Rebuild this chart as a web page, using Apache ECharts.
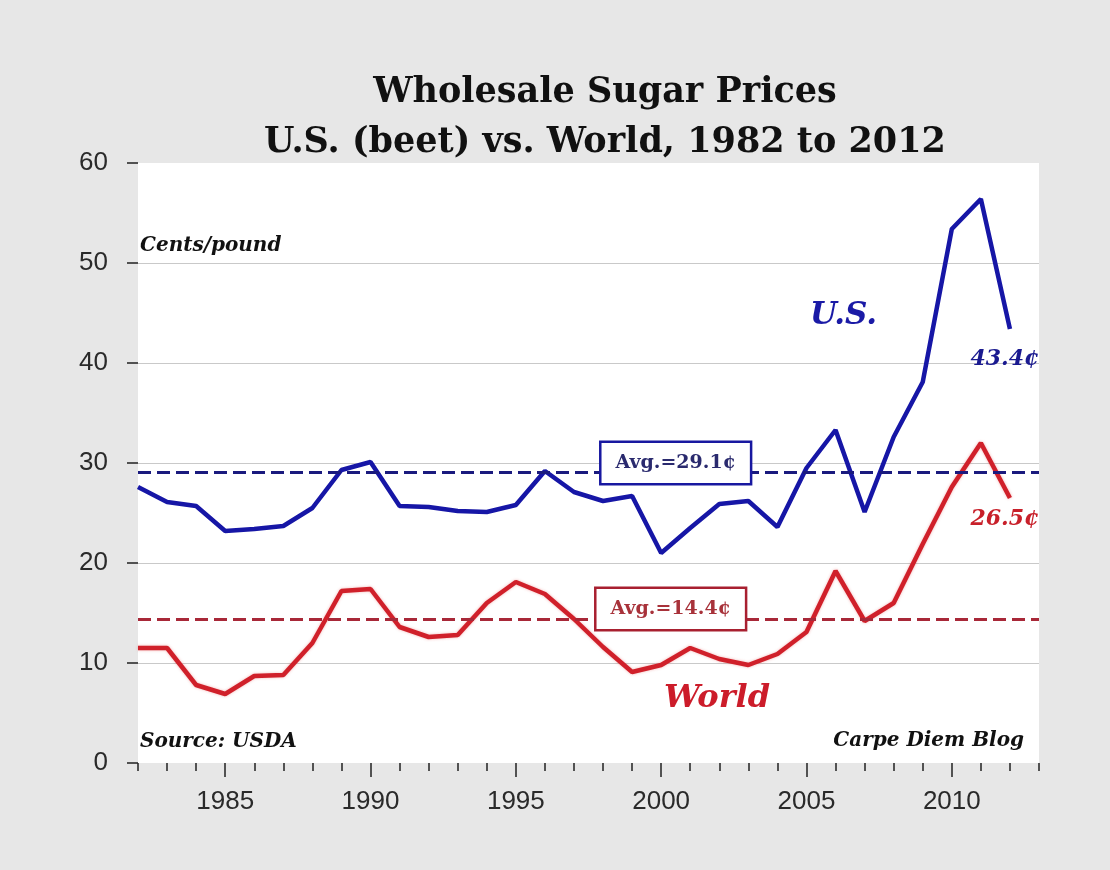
<!DOCTYPE html>
<html>
<head>
<meta charset="utf-8">
<title>Wholesale Sugar Prices</title>
<script src="https://cdn.jsdelivr.net/npm/echarts@6/dist/echarts.min.js"></script>
<style>
  html, body { margin: 0; padding: 0; background: #e7e7e7; }
  #chart { width: 1110px; height: 870px; }
</style>
</head>
<body>
<div id="chart"></div>
<script>
// Annual wholesale sugar prices, cents per pound
const years = [1982, 1983, 1984, 1985, 1986, 1987, 1988, 1989, 1990, 1991,
               1992, 1993, 1994, 1995, 1996, 1997, 1998, 1999, 2000, 2001,
               2002, 2003, 2004, 2005, 2006, 2007, 2008, 2009, 2010, 2011, 2012];
const usPrices = [27.6, 26.1, 25.7, 23.2, 23.4, 23.7, 25.5, 29.3, 30.1, 25.7,
                  25.6, 25.2, 25.1, 25.8, 29.2, 27.1, 26.2, 26.7, 21.0, 23.5,
                  25.9, 26.2, 23.6, 29.5, 33.3, 25.1, 32.6, 38.1, 53.4, 56.4, 43.4];
const worldPrices = [11.5, 11.5, 7.8, 6.9, 8.7, 8.8, 12.0, 17.2, 17.4, 13.6,
                     12.6, 12.8, 16.0, 18.1, 16.9, 14.4, 11.6, 9.1, 9.8, 11.5,
                     10.4, 9.8, 10.9, 13.1, 19.2, 14.2, 16.0, 21.9, 27.6, 32.0, 26.5];
const usAverage = 29.1;
const worldAverage = 14.4;
const yearTickLabels = [1985, 1990, 1995, 2000, 2005, 2010];
const avgLabelYear = 2000.5;

const usColor = '#1616a6';
const worldColor = '#d0202a';
const serif = '"DejaVu Serif", serif';
const sans = '"Liberation Sans", Arial, sans-serif';

const usPoints = years.map((y, i) => [y, usPrices[i]]);
const worldPoints = years.map((y, i) => [y, worldPrices[i]]);
const last = years.length - 1;

// invisible anchor used to hang text labels on data coordinates
const anchor = { symbol: 'rect', symbolSize: 1, itemStyle: { color: 'rgba(0,0,0,0)' } };

const chart = echarts.init(document.getElementById('chart'), null, { renderer: 'canvas' });

chart.setOption({
  backgroundColor: '#e7e7e7',
  animation: false,
  title: {
    text: 'Wholesale Sugar Prices\nU.S. (beet) vs. World, 1982 to 2012',
    left: 600,
    top: 63,
    textAlign: 'center',
    textStyle: {
      fontFamily: serif, fontWeight: 'bold', fontSize: 35,
      lineHeight: 50, color: '#111'
    }
  },
  grid: {
    left: 138, right: 71, top: 163, bottom: 107,
    show: true, backgroundColor: '#ffffff', borderWidth: 0
  },
  xAxis: [
    {
      type: 'value', min: 1982, max: 2013, interval: 1,
      axisLine: { show: false },
      axisTick: { show: true, length: 8, lineStyle: { color: '#222', width: 1.5 } },
      axisLabel: { show: false },
      splitLine: { show: false }
    },
    {
      type: 'value', min: 1982, max: 2013, position: 'bottom',
      axisLine: { show: false },
      axisTick: { show: true, length: 14, customValues: yearTickLabels,
                  lineStyle: { color: '#222', width: 1.5 } },
      axisLabel: { show: true, customValues: yearTickLabels, margin: 26,
                   formatter: v => String(v),
                   fontFamily: sans, fontSize: 26, color: '#2a2a2a' },
      splitLine: { show: false }
    }
  ],
  yAxis: {
    type: 'value', min: 0, max: 60, interval: 10,
    axisLine: { show: false },
    axisTick: { show: true, length: 11, lineStyle: { color: '#222', width: 1.5 } },
    axisLabel: { margin: 30, fontFamily: sans, fontSize: 26, color: '#2a2a2a' },
    splitLine: {
      show: true,
      lineStyle: {
        color: ['transparent', '#c9c9c9', '#c9c9c9', '#c9c9c9', '#c9c9c9', '#c9c9c9', 'transparent'],
        width: 1.2
      }
    }
  },
  series: [
    {
      name: 'World',
      type: 'line',
      xAxisIndex: 0,
      data: worldPoints,
      symbol: 'none',
      z: 3,
      lineStyle: { color: worldColor, width: 4.5, shadowColor: 'rgba(220,40,40,0.35)', shadowBlur: 3 },
      markLine: {
        silent: true, symbol: 'none',
        lineStyle: { color: '#a82838', type: [13, 6], width: 3 },
        label: { show: false },
        data: [{ yAxis: worldAverage }]
      },
      markPoint: Object.assign({ silent: true }, anchor, {
        data: [
          {
            coord: [avgLabelYear, worldAverage],
            label: {
              show: true, position: 'inside', formatter: 'Avg.=' + worldAverage.toFixed(1) + '¢',
              offset: [-5, -10],
              fontFamily: serif, fontWeight: 'bold', fontSize: 19, color: '#a8323a',
              backgroundColor: '#ffffff', borderColor: '#a82030', borderWidth: 2.5,
              padding: [11, 14, 10, 14]
            }
          },
          {
            coord: [years[last], worldPrices[last]],
            label: {
              show: true, position: 'inside', formatter: worldPrices[last].toFixed(1) + '¢',
              offset: [-5, 21],
              fontFamily: serif, fontWeight: 'bold', fontStyle: 'italic',
              fontSize: 22, color: '#c8202a'
            }
          }
        ]
      })
    },
    {
      name: 'U.S.',
      type: 'line',
      xAxisIndex: 0,
      data: usPoints,
      symbol: 'none',
      z: 4,
      lineStyle: { color: usColor, width: 4.5 },
      markLine: {
        silent: true, symbol: 'none',
        lineStyle: { color: '#1a1a7e', type: [13, 6], width: 3 },
        label: { show: false },
        data: [{ yAxis: usAverage }]
      },
      markPoint: Object.assign({ silent: true }, anchor, {
        data: [
          {
            coord: [avgLabelYear, usAverage],
            label: {
              show: true, position: 'inside', formatter: 'Avg.=' + usAverage.toFixed(1) + '¢',
              offset: [0, -9],
              fontFamily: serif, fontWeight: 'bold', fontSize: 19, color: '#2a2a6e',
              backgroundColor: '#ffffff', borderColor: '#1818a0', borderWidth: 2.5,
              padding: [11, 14, 10, 14]
            }
          },
          {
            coord: [years[last], usPrices[last]],
            label: {
              show: true, position: 'inside', formatter: usPrices[last].toFixed(1) + '¢',
              offset: [-5, 30],
              fontFamily: serif, fontWeight: 'bold', fontStyle: 'italic',
              fontSize: 22, color: '#1a1a90'
            }
          }
        ]
      })
    }
  ],
  graphic: [
    {
      type: 'text', left: 140, top: 236, z: 10,
      style: { text: 'Cents/pound', fontFamily: serif, fontWeight: 'bold',
               fontStyle: 'italic', fontSize: 20, fill: '#111' }
    },
    {
      type: 'text', left: 140, top: 732, z: 10,
      style: { text: 'Source: USDA', fontFamily: serif, fontWeight: 'bold',
               fontStyle: 'italic', fontSize: 20, fill: '#111' }
    },
    {
      type: 'text', right: 86, top: 731, z: 10,
      style: { text: 'Carpe Diem Blog', fontFamily: serif, fontWeight: 'bold',
               fontStyle: 'italic', fontSize: 20, fill: '#111' }
    },
    {
      type: 'text', left: 810, top: 300, z: 10,
      style: { text: 'U.S.', fontFamily: serif, fontWeight: 'bold',
               fontStyle: 'italic', fontSize: 31, fill: '#1a1aa6' }
    },
    {
      type: 'text', left: 664, top: 683, z: 10,
      style: { text: 'World', fontFamily: serif, fontWeight: 'bold',
               fontStyle: 'italic', fontSize: 32, fill: '#cc1c2a' }
    }
  ]
});
</script>
</body>
</html>
